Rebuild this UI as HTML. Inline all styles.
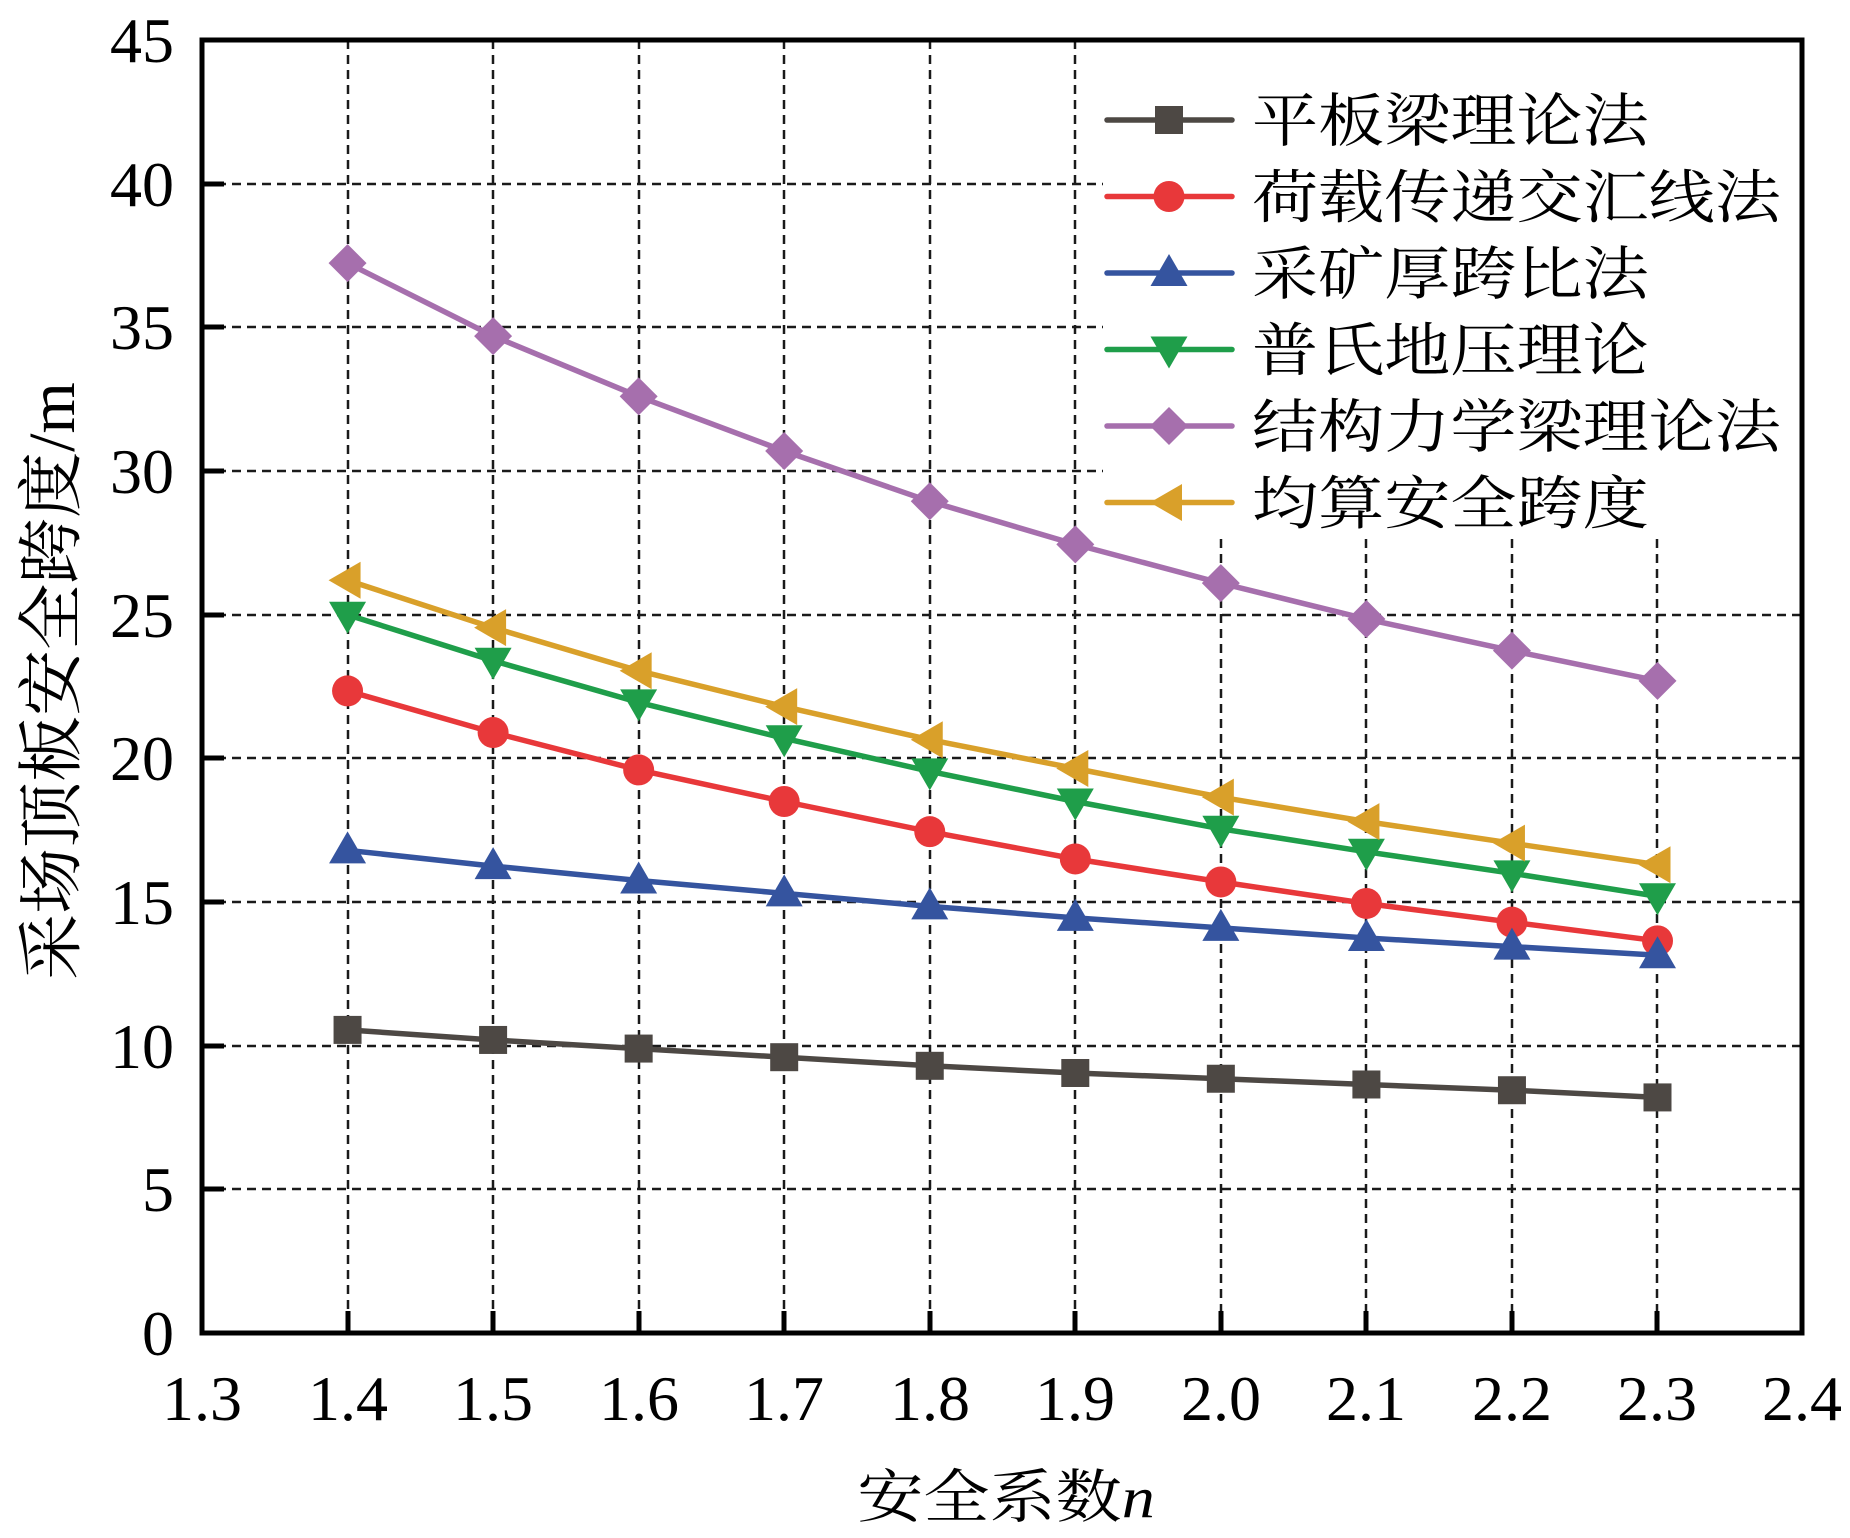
<!DOCTYPE html>
<html><head><meta charset="utf-8"><style>html,body{margin:0;padding:0;background:#fff;}svg{display:block;}</style></head>
<body>
<svg width="1850" height="1538" viewBox="0 0 1850 1538" xmlns="http://www.w3.org/2000/svg">
<defs>
<g id="m0"><rect x="-14" y="-14" width="28" height="28" fill="#4d4844"/></g>
<g id="m1"><circle r="15.5" fill="#e8383a"/></g>
<g id="m2"><polygon points="0,-19 18.5,13 -18.5,13" fill="#35549f"/></g>
<g id="m3"><polygon points="0,19 18.5,-13 -18.5,-13" fill="#1f9e4a"/></g>
<g id="m4"><polygon points="0,-19 19,0 0,19 -19,0" fill="#a66fad"/></g>
<g id="m5"><polygon points="-19,0 13,-18.5 13,18.5" fill="#d9a02a"/></g>
</defs>
<g stroke="#1a1a1a" stroke-width="2.5" stroke-dasharray="9,6" fill="none">
<path d="M348,40V1333M493,40V1333M639,40V1333M784,40V1333M930,40V1333M1075,40V1333M1221,539V1333M1366,539V1333M1512,539V1333M1657,539V1333"/>
<path d="M202,1189H1802M202,1046H1802M202,902H1802M202,758H1802M202,615H1802M202,471H1103M202,327H1103M202,184H1103"/>
</g>
<g id="series" stroke-width="5.5" fill="none" stroke-linejoin="round">
</g>
<g stroke="#000" stroke-width="5" fill="none">
<rect x="202" y="40" width="1600" height="1293"/>
<path d="M348,1333v-22M493,1333v-22M639,1333v-22M784,1333v-22M930,1333v-22M1075,1333v-22M1221,1333v-22M1366,1333v-22M1512,1333v-22M1657,1333v-22"/>
<path d="M202,1189h22M202,1046h22M202,902h22M202,758h22M202,615h22M202,471h22M202,327h22M202,184h22"/>
</g>
<g font-family="Liberation Serif, serif" font-size="64" fill="#000" text-anchor="end">
<text x="174" y="1355">0</text><text x="174" y="1211">5</text><text x="174" y="1068">10</text>
<text x="174" y="924">15</text><text x="174" y="780">20</text><text x="174" y="637">25</text>
<text x="174" y="493">30</text><text x="174" y="349">35</text><text x="174" y="206">40</text><text x="174" y="62">45</text>
</g>
<g font-family="Liberation Serif, serif" font-size="64" fill="#000" text-anchor="middle">
<text x="202" y="1420">1.3</text><text x="348" y="1420">1.4</text><text x="493" y="1420">1.5</text>
<text x="639" y="1420">1.6</text><text x="784" y="1420">1.7</text><text x="930" y="1420">1.8</text>
<text x="1075" y="1420">1.9</text><text x="1221" y="1420">2.0</text><text x="1366" y="1420">2.1</text>
<text x="1512" y="1420">2.2</text><text x="1657" y="1420">2.3</text><text x="1802" y="1420">2.4</text>
</g>
<g font-family="Liberation Serif, 'Noto Serif CJK SC', serif" fill="#000">
<text font-size="58" transform="translate(1006,1517) scale(1.14,1)" text-anchor="middle">安全系数<tspan font-style="italic">n</tspan></text>
<text font-size="66" transform="translate(74,681) rotate(-90)" text-anchor="middle">采场顶板安全跨度/m</text>
</g>
<g id="legend" font-family="'Noto Serif CJK SC', serif" font-size="58" fill="#000"></g>
<script>
var X=function(n){return 202+(n-1.3)*1455.5;},Y=function(v){return 1333-v*28.73;};
var cols=["#4d4844","#e8383a","#35549f","#1f9e4a","#a66fad","#d9a02a"];
var data=[
[10.55,10.2,9.9,9.6,9.3,9.05,8.85,8.65,8.45,8.2],
[22.35,20.9,19.6,18.5,17.45,16.5,15.7,14.95,14.3,13.65],
[16.8,16.25,15.75,15.3,14.85,14.45,14.1,13.75,13.45,13.15],
[25.0,23.4,21.95,20.7,19.55,18.5,17.55,16.75,16.0,15.2],
[37.24,34.7,32.6,30.7,28.95,27.45,26.1,24.85,23.75,22.7],
[26.2,24.55,23.05,21.8,20.65,19.65,18.65,17.8,17.05,16.3]];
var ns="http://www.w3.org/2000/svg",g=document.getElementById("series");
data.forEach(function(d,i){var p=d.map(function(v,k){return X(1.4+k*0.1).toFixed(1)+","+Y(v).toFixed(1);}).join(" ");
var pl=document.createElementNS(ns,"polyline");pl.setAttribute("points",p);pl.setAttribute("stroke",cols[i]);g.appendChild(pl);
d.forEach(function(v,k){var u=document.createElementNS(ns,"use");u.setAttribute("href","#m"+i);u.setAttribute("x",X(1.4+k*0.1));u.setAttribute("y",Y(v));g.appendChild(u);});});
var names=["平板梁理论法","荷载传递交汇线法","采矿厚跨比法","普氏地压理论","结构力学梁理论法","均算安全跨度"];
var L=document.getElementById("legend");
names.forEach(function(s,i){var y=120+i*76.5;
var ln=document.createElementNS(ns,"line");ln.setAttribute("x1",1107);ln.setAttribute("x2",1232);ln.setAttribute("y1",y);ln.setAttribute("y2",y);ln.setAttribute("stroke",cols[i]);ln.setAttribute("stroke-width",5.5);ln.setAttribute("stroke-linecap","round");L.appendChild(ln);
var u=document.createElementNS(ns,"use");u.setAttribute("href","#m"+i);u.setAttribute("x",1169);u.setAttribute("y",y);L.appendChild(u);
var t=document.createElementNS(ns,"text");t.setAttribute("transform","translate(1252,"+(y+21)+") scale(1.14,1)");t.textContent=s;L.appendChild(t);});
</script>
</svg>
</body></html>
